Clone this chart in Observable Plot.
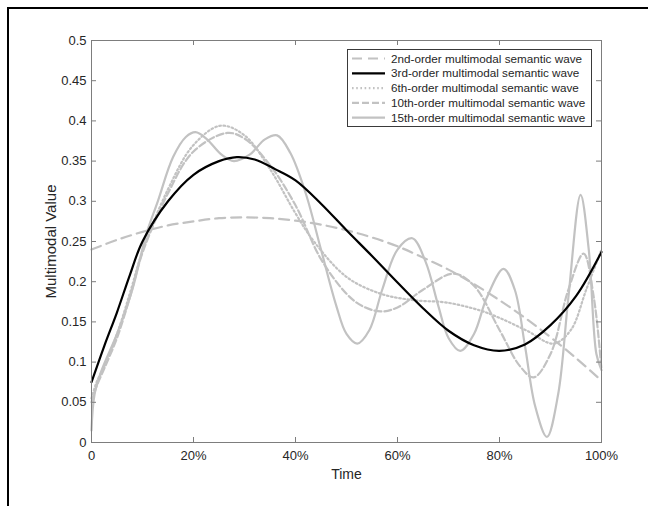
<!DOCTYPE html>
<html><head><meta charset="utf-8">
<script src="https://cdn.jsdelivr.net/npm/d3@7"></script>
<script src="https://cdn.jsdelivr.net/npm/@observablehq/plot@0.6"></script>
<style>
html,body{margin:0;padding:0;background:#fff;overflow:hidden;}
#wrap{position:relative;width:648px;height:506px;overflow:hidden;font-family:"Liberation Sans",Arial,sans-serif;}
#chart{position:absolute;left:0;top:0;}
#legend{position:absolute;left:347px;top:49px;}
#frame{position:absolute;left:7px;top:7px;width:900px;height:900px;border:2.5px solid #000;pointer-events:none;box-sizing:border-box;}
</style></head><body>
<div id="wrap"><div id="chart"></div><div id="legend"></div><div id="frame"></div></div>
<script>
// ---- data ----
const seriesNames = [
  "2nd-order multimodal semantic wave",
  "3rd-order multimodal semantic wave",
  "6th-order multimodal semantic wave",
  "10th-order multimodal semantic wave",
  "15th-order multimodal semantic wave"
];
const t2 = [0,0.05,0.1,0.15,0.2,0.25,0.3,0.35,0.4,0.45,0.5,0.55,0.6,0.65,0.7,0.75,0.8,0.85,0.9,0.95,1];
const v2 = [0.240,0.252,0.262,0.270,0.275,0.279,0.280,0.279,0.276,0.271,0.264,0.255,0.244,0.230,0.215,0.197,0.177,0.155,0.131,0.105,0.077];
const t3 = [0,0.025,0.05,0.075,0.1,0.15,0.2,0.25,0.285,0.32,0.36,0.4,0.45,0.5,0.55,0.6,0.65,0.7,0.75,0.8,0.85,0.9,0.95,1];
const v3 = [0.075,0.12,0.162,0.208,0.250,0.300,0.333,0.350,0.355,0.352,0.340,0.326,0.297,0.264,0.232,0.199,0.167,0.139,0.121,0.114,0.122,0.146,0.182,0.237];
const t6 = [0,0.01,0.025,0.05,0.075,0.1,0.15,0.2,0.253,0.3,0.35,0.4,0.435,0.5,0.567,0.632,0.697,0.763,0.8,0.854,0.906,0.94,0.97,1];
const v6 = [0.055,0.075,0.095,0.135,0.185,0.238,0.315,0.37,0.394,0.382,0.34,0.285,0.251,0.206,0.185,0.177,0.174,0.164,0.155,0.139,0.123,0.14,0.19,0.24];
const t10 = [0,0.01,0.025,0.05,0.075,0.1,0.15,0.2,0.266,0.3,0.35,0.4,0.45,0.5,0.53,0.567,0.6,0.65,0.71,0.75,0.8,0.84,0.867,0.9,0.935,0.965,0.985,1];
const v10 = [0.05,0.07,0.092,0.13,0.18,0.236,0.31,0.362,0.385,0.378,0.345,0.295,0.228,0.185,0.17,0.163,0.168,0.19,0.21,0.195,0.14,0.095,0.081,0.11,0.19,0.235,0.18,0.09];
const t15 = [0,0.006,0.02,0.05,0.08,0.107,0.13,0.16,0.185,0.204,0.225,0.255,0.279,0.31,0.34,0.364,0.39,0.42,0.45,0.48,0.5,0.521,0.545,0.57,0.6,0.629,0.655,0.68,0.7,0.723,0.75,0.775,0.808,0.83,0.85,0.87,0.893,0.915,0.935,0.959,0.975,0.99,1];
const v15 = [0.015,0.06,0.09,0.135,0.19,0.258,0.30,0.355,0.38,0.386,0.378,0.358,0.35,0.358,0.377,0.382,0.36,0.31,0.24,0.17,0.135,0.123,0.14,0.19,0.24,0.254,0.225,0.17,0.13,0.114,0.135,0.18,0.216,0.19,0.12,0.045,0.007,0.06,0.18,0.308,0.24,0.11,0.09];
const xTicks = [0,0.2,0.4,0.6,0.8,1];
const xTickLabels = ["0","20%","40%","60%","80%","100%"];
const yTicks = [0,0.05,0.1,0.15,0.2,0.25,0.3,0.35,0.4,0.45,0.5];
const yTickLabels = ["0","0.05","0.1","0.15","0.2","0.25","0.3","0.35","0.4","0.45","0.5"];
const xLabel = "Time";
const yLabel = "Multimodal Value";

// ---- styles ----
const gray = "#c2c2c2";
const axisColor = "#7d7d7d";
const textColor = "#262626";
const styles = [
  {stroke: gray, strokeWidth: 2.2, strokeDasharray: "10,6"},
  {stroke: "#000", strokeWidth: 2.2, strokeDasharray: null},
  {stroke: gray, strokeWidth: 2.2, strokeDasharray: "1.6,2.6"},
  {stroke: gray, strokeWidth: 2.2, strokeDasharray: "7,3"},
  {stroke: gray, strokeWidth: 2.2, strokeDasharray: null}
];
const series = [[t2,v2],[t3,v3],[t6,v6],[t10,v10],[t15,v15]];
const rows = [];
series.forEach(([ts,vs],k) => ts.forEach((t,i) => rows.push({s:k, t, v: vs[i]})));

const W = 648, H = 506, mL = 91, mR = 47, mT = 40, mB = 64;
const fh = H - mT - mB, fw = W - mL - mR, tl = 5;

const lineMarks = [0,2,3,4,1].map(k => Plot.line(rows.filter(d => d.s === k), {
  x: "t", y: "v", curve: "catmull-rom",
  stroke: styles[k].stroke, strokeWidth: styles[k].strokeWidth,
  strokeDasharray: styles[k].strokeDasharray || undefined
}));

const chart = Plot.plot({
  width: W, height: H, marginLeft: mL, marginRight: mR, marginTop: mT, marginBottom: mB,
  style: {background: "transparent", fontFamily: '"Liberation Sans", Arial, sans-serif', fontSize: "13px", color: textColor},
  x: {domain: [0,1]},
  y: {domain: [0,0.5]},
  marks: [
    ...lineMarks,
    Plot.frame({stroke: axisColor, strokeWidth: 1}),
    Plot.tickX(xTicks, {x: d => d, stroke: axisColor, insetTop: fh - tl}),
    Plot.tickX(xTicks, {x: d => d, stroke: axisColor, insetBottom: fh - tl}),
    Plot.tickY(yTicks, {y: d => d, stroke: axisColor, insetRight: fw - tl}),
    Plot.tickY(yTicks, {y: d => d, stroke: axisColor, insetLeft: fw - tl}),
    Plot.axisX({ticks: xTicks, tickSize: 0, tickPadding: 8, tickFormat: d => xTickLabels[xTicks.indexOf(d)], label: null, fill: textColor}),
    Plot.axisY({ticks: yTicks, tickSize: 0, tickPadding: 5, tickFormat: d => yTickLabels[yTicks.indexOf(d)], label: null, fill: textColor}),
    Plot.text([xLabel], {frameAnchor: "bottom", dy: 32, lineAnchor: "middle", fontSize: 14, fill: textColor}),
    Plot.text([yLabel], {frameAnchor: "left", rotate: -90, textAnchor: "middle", dx: -40, lineAnchor: "middle", fontSize: 15, fill: textColor})
  ]
});
document.getElementById("chart").append(chart);

// ---- legend ----
const lw = 245, lh = 78, rowH = 14.8;
const lsvg = d3.select("#legend").append("svg").attr("width", lw).attr("height", lh)
  .style("font-family", '"Liberation Sans", Arial, sans-serif');
lsvg.append("rect").attr("x",0.5).attr("y",0.5).attr("width",lw-1).attr("height",lh-1)
  .attr("fill","#fff").attr("stroke","#3a3a3a").attr("stroke-width",1);
seriesNames.forEach((name,k) => {
  const y = 9.5 + k*rowH;
  lsvg.append("line").attr("x1",5).attr("x2",38).attr("y1",y).attr("y2",y)
    .attr("stroke", styles[k].stroke).attr("stroke-width", styles[k].strokeWidth)
    .attr("stroke-dasharray", styles[k].strokeDasharray);
  lsvg.append("text").attr("x",44).attr("y",y).attr("dy","0.35em")
    .attr("font-size","11.7px").attr("fill",textColor).text(name);
});
</script>
</body></html>
